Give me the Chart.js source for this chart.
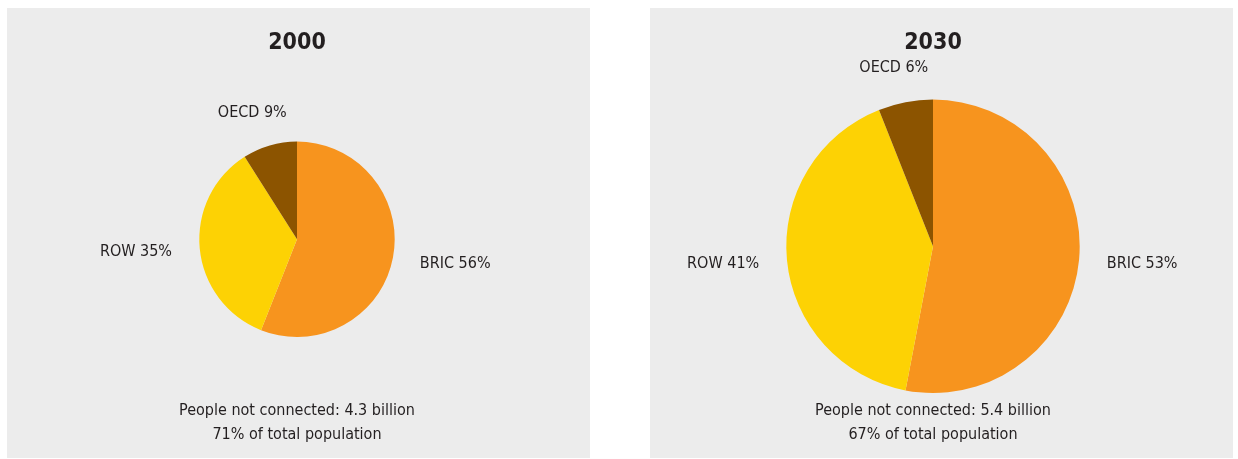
<!DOCTYPE html>
<html>
<head>
<meta charset="utf-8">
<script src="https://cdn.jsdelivr.net/npm/chart.js@4"></script>
<style>
  html, body { margin: 0; padding: 0; background: #fff; }
  .panel { position: absolute; top: 8px; width: 583px; height: 450px; background: #ececec; }
  #p1 { left: 7px; }
  #p2 { left: 650px; }
</style>
</head>
<body>
<div class="panel" id="p1"><canvas id="pie2000"></canvas></div>
<div class="panel" id="p2"><canvas id="pie2030"></canvas></div>
<script>
const regions = ['BRIC', 'ROW', 'OECD'];
const share2000 = [56, 35, 9];
const share2030 = [53, 41, 6];
const notConnected = ['4.3', '5.4'];
const shareOfPopulation = [71, 67];
const colors = ['#F7941E', '#FDD204', '#8C5400'];
const FONT = "'Liberation Sans Narrow', 'DejaVu Sans Condensed', 'Arial Narrow', sans-serif";
const TEXT = '#231f20';

// draws "NAME xx%" outside each slice
const sliceLabels = {
  id: 'sliceLabels',
  afterDatasetsDraw(chart, args, opts) {
    const ctx = chart.ctx;
    const meta = chart.getDatasetMeta(0);
    const values = chart.data.datasets[0].data;
    ctx.save();
    ctx.font = '16px ' + FONT;
    ctx.fillStyle = TEXT;
    ctx.textBaseline = 'middle';
    ctx.textAlign = 'left';
    meta.data.forEach(function (arc, i) {
      const p = arc.getProps(['x', 'y', 'startAngle', 'endAngle', 'outerRadius'], true);
      const mid = (p.startAngle + p.endAngle) / 2;
      const dx = Math.cos(mid), dy = Math.sin(mid);
      const r = p.outerRadius + opts.offset;
      const text = chart.data.labels[i] + ' ' + values[i] + '%';
      const w = ctx.measureText(text).width;
      const h = 13;
      ctx.fillText(text, p.x + dx * r - w * (1 - dx) / 2, p.y + dy * r + h / 2 * dy);
    });
    ctx.restore();
  }
};

function makePie(id, year, data, billions, pct, pad) {
  return new Chart(document.getElementById(id), {
    type: 'pie',
    plugins: [sliceLabels],
    data: {
      labels: regions,
      datasets: [{
        data: data,
        backgroundColor: colors,
        borderWidth: 0,
        hoverOffset: 0,
      }]
    },
    options: {
      responsive: true,
      maintainAspectRatio: false,
      animation: false,
      layout: {
        padding: { left: 0, right: pad.right, top: 0, bottom: 0 }
      },
      plugins: {
        legend: { display: false },
        tooltip: { enabled: false },
        title: {
          display: true,
          text: year,
          color: TEXT,
          font: { family: FONT, size: 23, weight: 'bold', lineHeight: 1.2 },
          padding: { top: 21, bottom: pad.titleBottom },
        },
        subtitle: {
          display: true,
          position: 'bottom',
          text: ['People not connected: ' + billions + ' billion', pct + '% of total population'],
          color: TEXT,
          font: { family: FONT, size: 16, lineHeight: 24 / 16 },
          padding: { top: pad.subTop, bottom: 11 },
        },
        sliceLabels: { offset: 28 },
      }
    }
  });
}

makePie('pie2000', '2000', share2000, notConnected[0], shareOfPopulation[0],
  { right: 3, titleBottom: 85, subTop: 62 });
makePie('pie2030', '2030', share2030, notConnected[1], shareOfPopulation[1],
  { right: 17, titleBottom: 43, subTop: 6 });
</script>
</body>
</html>
